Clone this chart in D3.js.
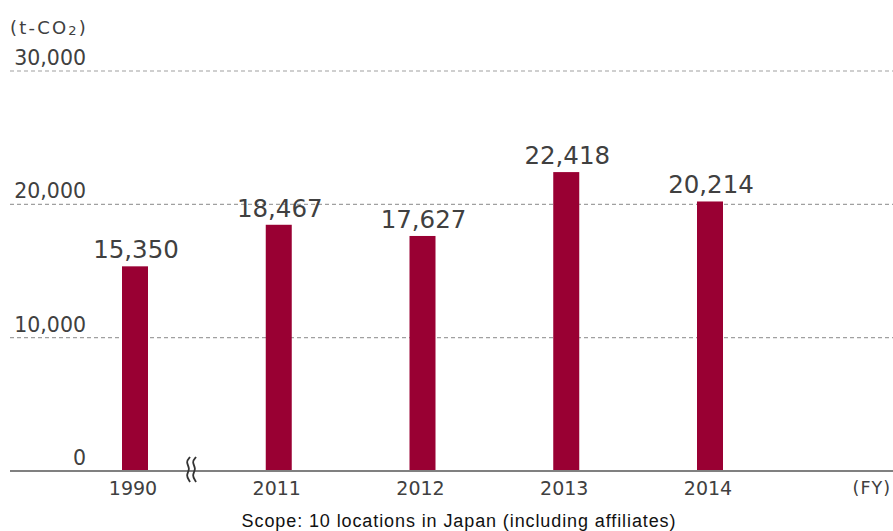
<!DOCTYPE html>
<html>
<head>
<meta charset="utf-8">
<script src="https://cdn.jsdelivr.net/npm/d3@7"></script>
<style>
  html, body { margin: 0; padding: 0; background: #fff; }
  svg { display: block; }
</style>
</head>
<body>
<script>
// CO2 emissions by fiscal year (t-CO2)
const years = ["1990", "2011", "2012", "2013", "2014"];
const emissions = [15350, 18467, 17627, 22418, 20214];
const yTicks = [0, 10000, 20000, 30000];
const unitLabel = "(t-CO";
const xUnit = "(FY)";
const caption = "Scope: 10 locations in Japan (including affiliates)";

const W = 893, H = 531;
const svg = d3.select("body").append("svg").attr("width", W).attr("height", H);

const x = d3.scalePoint().domain(years).range([135, 710]);
const y = d3.scaleLinear().domain([0, 30000]).range([471, 71]);
const barW = 26;
const numFont = "'DejaVu Sans', Verdana, sans-serif";
const textCol = "#404040";

// dashed gridlines (above zero)
svg.append("g").selectAll("line")
  .data(yTicks.filter(d => d > 0))
  .join("line")
  .attr("x1", 10).attr("x2", W)
  .attr("y1", d => y(d)).attr("y2", d => y(d))
  .attr("stroke", "#a0a0a0").attr("stroke-width", 1.2)
  .attr("stroke-dasharray", "4,3");

// y tick labels
svg.append("g").selectAll("text")
  .data(yTicks)
  .join("text")
  .attr("x", 86).attr("y", d => y(d) - 6)
  .attr("text-anchor", "end")
  .attr("font-family", numFont).attr("font-size", 20.5)
  .attr("fill", textCol)
  .text(d => d3.format(",")(d));

// unit label with subscript
const u = svg.append("text")
  .attr("x", 10).attr("y", 34)
  .attr("font-family", numFont).attr("font-size", 18)
  .attr("letter-spacing", 2.2)
  .attr("fill", textCol);
u.append("tspan").text(unitLabel);
u.append("tspan").attr("font-size", 13).attr("dy", 1).text("2");
u.append("tspan").attr("dy", -1).text(")");

// bars
svg.append("g").selectAll("rect")
  .data(years.map((k, i) => ({ k, v: emissions[i] })))
  .join("rect")
  .attr("x", d => x(d.k) - barW / 2)
  .attr("width", barW)
  .attr("y", d => y(d.v))
  .attr("height", d => y(0) - y(d.v))
  .attr("fill", "#990033");

// value labels
svg.append("g").selectAll("text")
  .data(years.map((k, i) => ({ k, v: emissions[i] })))
  .join("text")
  .attr("x", d => x(d.k) + 1)
  .attr("y", d => y(d.v) - 8)
  .attr("text-anchor", "middle")
  .attr("font-family", numFont).attr("font-size", 24.5)
  .attr("fill", textCol)
  .text(d => d3.format(",")(d.v));

// baseline axis
svg.append("line")
  .attr("x1", 10).attr("x2", W)
  .attr("y1", y(0)).attr("y2", y(0))
  .attr("stroke", "#808080").attr("stroke-width", 2);

// axis break mark between 1990 and 2011
const bx = x("1990") + x.step() * 0.39;
const by = y(0);
const wave = d3.line().curve(d3.curveBasis);
[-3, 3].forEach(off => {
  const cx = bx + off;
  svg.append("path")
    .attr("d", wave([
      [cx + 2, by - 14], [cx - 2.5, by - 9], [cx + 2.5, by - 2],
      [cx - 2.5, by + 4], [cx + 2, by + 11]
    ]))
    .attr("fill", "none").attr("stroke", "#333").attr("stroke-width", 1.8);
});

// x tick labels
svg.append("g").selectAll("text")
  .data(years)
  .join("text")
  .attr("x", d => x(d) - 2)
  .attr("y", 495)
  .attr("text-anchor", "middle")
  .attr("font-family", numFont).attr("font-size", 19)
  .attr("fill", textCol)
  .text(d => d);

svg.append("text")
  .attr("x", 891).attr("y", 494)
  .attr("text-anchor", "end")
  .attr("font-family", numFont).attr("font-size", 17.5)
  .attr("letter-spacing", 1)
  .attr("fill", textCol)
  .text(xUnit);

// caption
svg.append("text")
  .attr("x", 459).attr("y", 527)
  .attr("text-anchor", "middle")
  .attr("font-family", "'Liberation Sans', Arial, sans-serif")
  .attr("font-size", 18)
  .attr("letter-spacing", 0.9)
  .attr("fill", "#111")
  .text(caption);
</script>
</body>
</html>
